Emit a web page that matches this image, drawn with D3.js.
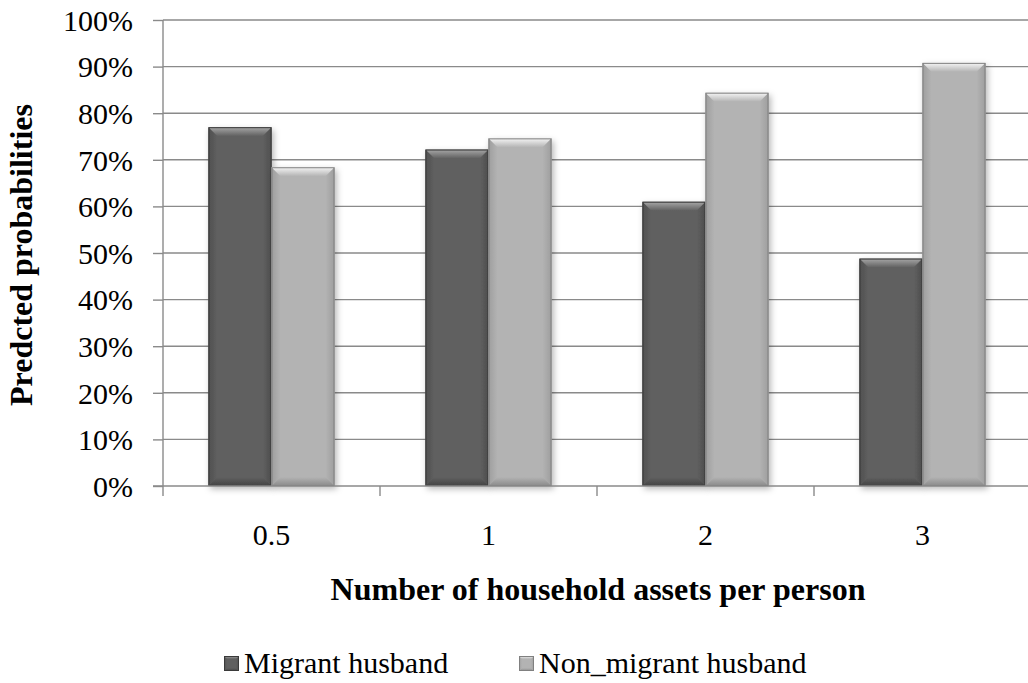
<!DOCTYPE html>
<html>
<head>
<meta charset="utf-8">
<script src="https://cdn.jsdelivr.net/npm/d3@7/dist/d3.min.js"></script>
<style>
  html, body { margin: 0; padding: 0; background: #fff; }
  svg { display: block; font-family: "Liberation Serif", "Times New Roman", serif; }
</style>
</head>
<body>
<svg id="chart" width="1028" height="683"></svg>
<script>
// Predicted probabilities by household assets per person
const categories = ["0.5", "1", "2", "3"];
const seriesNames = ["Migrant husband", "Non_migrant husband"];
const migrant = [0.770, 0.722, 0.610, 0.488];
const nonMigrant = [0.684, 0.746, 0.844, 0.908];
const yTicks = [0, 0.1, 0.2, 0.3, 0.4, 0.5, 0.6, 0.7, 0.8, 0.9, 1.0];

const seriesValues = [migrant, nonMigrant];
const palette = [
  { body: "#606060", top: "#a8a8a8", side: "#505050", bottom: "#434343", edge: "#3a3a3a" },
  { body: "#b3b3b3", top: "#f6f6f6", side: "#9e9e9e", bottom: "#8a8a8a", edge: "#808080" }
];

const svg = d3.select("#chart");
const margin = { left: 163, top: 20, right: 1031, bottom: 486 };

const x = d3.scaleBand().domain(categories).range([margin.left, margin.right]).padding(0);
const xs = d3.scaleBand().domain(seriesNames).range([0, x.bandwidth()])
  .paddingInner(0).paddingOuter(0.722);
const y = d3.scaleLinear().domain([0, 1]).range([margin.bottom, margin.top]);

const defs = svg.append("defs");
const shadow = defs.append("filter").attr("id", "shadow")
  .attr("x", "-20%").attr("y", "-10%").attr("width", "140%").attr("height", "130%");
shadow.append("feDropShadow").attr("dx", 2).attr("dy", 3).attr("stdDeviation", 3)
  .attr("flood-color", "#000").attr("flood-opacity", 0.28);

palette.forEach((p, i) => {
  const tg = defs.append("linearGradient").attr("id", "top" + i).attr("x1", 0).attr("y1", 0).attr("x2", 0).attr("y2", 1);
  tg.append("stop").attr("offset", "0%").attr("stop-color", p.top);
  tg.append("stop").attr("offset", "100%").attr("stop-color", p.body);
  const bg = defs.append("linearGradient").attr("id", "bot" + i).attr("x1", 0).attr("y1", 0).attr("x2", 0).attr("y2", 1);
  bg.append("stop").attr("offset", "0%").attr("stop-color", p.body);
  bg.append("stop").attr("offset", "100%").attr("stop-color", p.bottom);
  const lg = defs.append("linearGradient").attr("id", "left" + i).attr("x1", 0).attr("y1", 0).attr("x2", 1).attr("y2", 0);
  lg.append("stop").attr("offset", "0%").attr("stop-color", p.side);
  lg.append("stop").attr("offset", "100%").attr("stop-color", p.body);
  const rg = defs.append("linearGradient").attr("id", "right" + i).attr("x1", 0).attr("y1", 0).attr("x2", 1).attr("y2", 0);
  rg.append("stop").attr("offset", "0%").attr("stop-color", p.body);
  rg.append("stop").attr("offset", "100%").attr("stop-color", p.side);
});

// Gridlines
svg.append("g").selectAll("line").data(yTicks.filter(d => d > 0)).join("line")
  .attr("x1", margin.left).attr("x2", margin.right)
  .attr("y1", d => y(d)).attr("y2", d => y(d))
  .attr("stroke", "#8a8a8a").attr("stroke-width", 1.4);

// Beveled bar drawing
function bevelBar(g, bx, by, w, h, i, b) {
  const p = palette[i];
  const grp = g.append("g");
  grp.append("rect").attr("x", bx).attr("y", by).attr("width", w).attr("height", h).attr("fill", p.body);
  const pts = a => a.map(q => q.join(",")).join(" ");
  grp.append("polygon").attr("points", pts([[bx, by], [bx + b, by + b], [bx + b, by + h - b], [bx, by + h]])).attr("fill", `url(#left${i})`);
  grp.append("polygon").attr("points", pts([[bx + w, by], [bx + w - b, by + b], [bx + w - b, by + h - b], [bx + w, by + h]])).attr("fill", `url(#right${i})`);
  grp.append("polygon").attr("points", pts([[bx, by + h], [bx + b, by + h - b], [bx + w - b, by + h - b], [bx + w, by + h]])).attr("fill", `url(#bot${i})`);
  grp.append("polygon").attr("points", pts([[bx, by], [bx + w, by], [bx + w - b, by + b], [bx + b, by + b]])).attr("fill", `url(#top${i})`);
  grp.append("rect").attr("x", bx + 0.5).attr("y", by + 0.5).attr("width", w - 1).attr("height", h - 1)
    .attr("fill", "none").attr("stroke", p.edge).attr("stroke-width", 1);
  return grp;
}

const barsG = svg.append("g");
categories.forEach((c, ci) => {
  seriesNames.forEach((s, si) => {
    const v = seriesValues[si][ci];
    const bx = x(c) + xs(s);
    const by = y(v);
    const h = y(0) - y(v);
    const grp = bevelBar(barsG, bx, by, xs.bandwidth(), h, si, 9);
    grp.attr("filter", "url(#shadow)");
  });
});

// Y axis
const yAxis = d3.axisLeft(y).tickValues(yTicks).tickFormat(d3.format(".0%")).tickSize(10).tickPadding(20);
const yG = svg.append("g").attr("transform", `translate(${margin.left},0)`).call(yAxis);
yG.select(".domain").attr("stroke", "#8a8a8a").attr("stroke-width", 1.4).attr("d", `M0,${margin.top}V${margin.bottom}`);
yG.selectAll(".tick line").attr("stroke", "#8a8a8a").attr("stroke-width", 1.4);
yG.selectAll(".tick text").attr("font-size", 30).attr("fill", "#000").attr("font-family", "Liberation Serif").attr("dy", "0.34em");

// X axis
const xAxis = d3.axisBottom(x).tickSize(0).tickPadding(38);
const xG = svg.append("g").attr("transform", `translate(0,${margin.bottom})`).call(xAxis);
xG.select(".domain").attr("stroke", "#8a8a8a").attr("stroke-width", 1.4).attr("d", `M${margin.left - 10},0H${margin.right}`);
xG.selectAll(".tick text").attr("font-size", 30).attr("fill", "#000").attr("font-family", "Liberation Serif");
// Category boundary ticks
const bounds = categories.map(c => x(c)).concat([margin.right]);
xG.append("g").selectAll("line").data(bounds).join("line")
  .attr("x1", d => d).attr("x2", d => d).attr("y1", 0).attr("y2", 10)
  .attr("stroke", "#8a8a8a").attr("stroke-width", 1.4);

// Axis titles
svg.append("text").attr("x", 598).attr("y", 600).attr("text-anchor", "middle")
  .attr("font-size", 32).attr("font-weight", "bold").text("Number of household assets per person");
svg.append("text").attr("transform", "translate(32,255) rotate(-90)").attr("text-anchor", "middle")
  .attr("font-size", 32).attr("font-weight", "bold").text("Predcted probabilities");

// Legend
const legend = svg.append("g");
const legendX = [224, 519];
seriesNames.forEach((s, si) => {
  const lx = legendX[si];
  bevelBar(legend, lx, 656, 15, 15, si, 3);
  legend.append("text").attr("x", lx + 20).attr("y", 673).attr("font-size", 30).text(s);
});
</script>
</body>
</html>
